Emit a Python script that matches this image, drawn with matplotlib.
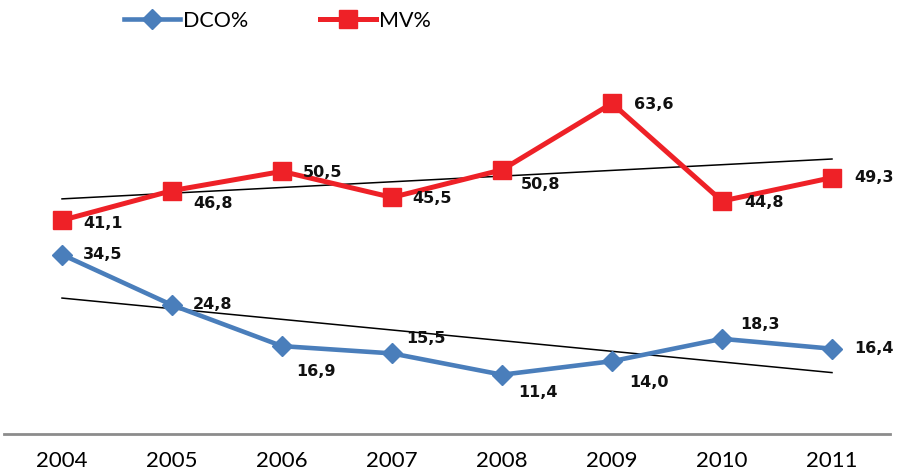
import numpy as np
import matplotlib.pyplot as plt

years = ['2004', '2005', '2006', '2007', '2008', '2009', '2010', '2011']
dco = [34.5, 24.8, 16.9, 15.5, 11.4, 14.0, 18.3, 16.4]
mv = [41.1, 46.8, 50.5, 45.5, 50.8, 63.6, 44.8, 49.3]

# label offsets in pixels (dx, dy) from each point
dco_off = [(41, 0), (41, 1), (34, -25), (34, 15), (36, -18), (37, -21), (38, 14), (42, 0)]
mv_off = [(41, -3), (41, -13), (41, -1), (40, -1), (39, -15), (42, -1), (42, -1), (42, 0)]

blue = '#4A7EBB'
red = '#EE2127'

fig = plt.figure(figsize=(8.97, 4.75), dpi=100)
ax = fig.add_axes([0.0, (475 - 434) / 475, 1.0, 364 / 475])

x = np.arange(len(years))
ax.plot(x, dco, color=blue, lw=3.3, marker='D', ms=10, label='DCO%')
ax.plot(x, mv, color=red, lw=3.6, marker='s', ms=13, label='MV%')

# linear trend lines
for vals in (dco, mv):
    k, b = np.polyfit(x, vals, 1)
    ax.plot(x, k * x + b, color='black', lw=1.1, zorder=1)

for vals, offs in ((dco, dco_off), (mv, mv_off)):
    for xi, v, (dx, dy) in zip(x, vals, offs):
        ax.annotate(f'{v:.1f}'.replace('.', ','), (xi, v), xytext=(dx * 0.72, dy * 0.72),
                    textcoords='offset points', ha='center', va='center',
                    fontsize=11.5, fontweight='bold', color='#111111')

ax.set_xlim(-62 / 110, 7 + 65 / 110)
ax.set_ylim(0, 70)
ax.set_xticks(x)
ax.set_xticklabels(years, fontsize=16, family='Lato')
ax.tick_params(axis='x', length=0, pad=12)
ax.set_yticks([])
for s in ('left', 'right', 'top', 'bottom'):
    ax.spines[s].set_visible(False)
ax.axhline(0, xmin=4 / 897, xmax=890 / 897, color='#8C8C8C', lw=2, clip_on=False)

ax.legend(loc='upper left', bbox_to_anchor=(0.1167, 1.216), ncol=2, frameon=False,
          prop={'family': 'Lato', 'size': 15.5}, handlelength=2.6, columnspacing=3.3,
          handletextpad=0.15)

fig.savefig('out.png', dpi=100)
